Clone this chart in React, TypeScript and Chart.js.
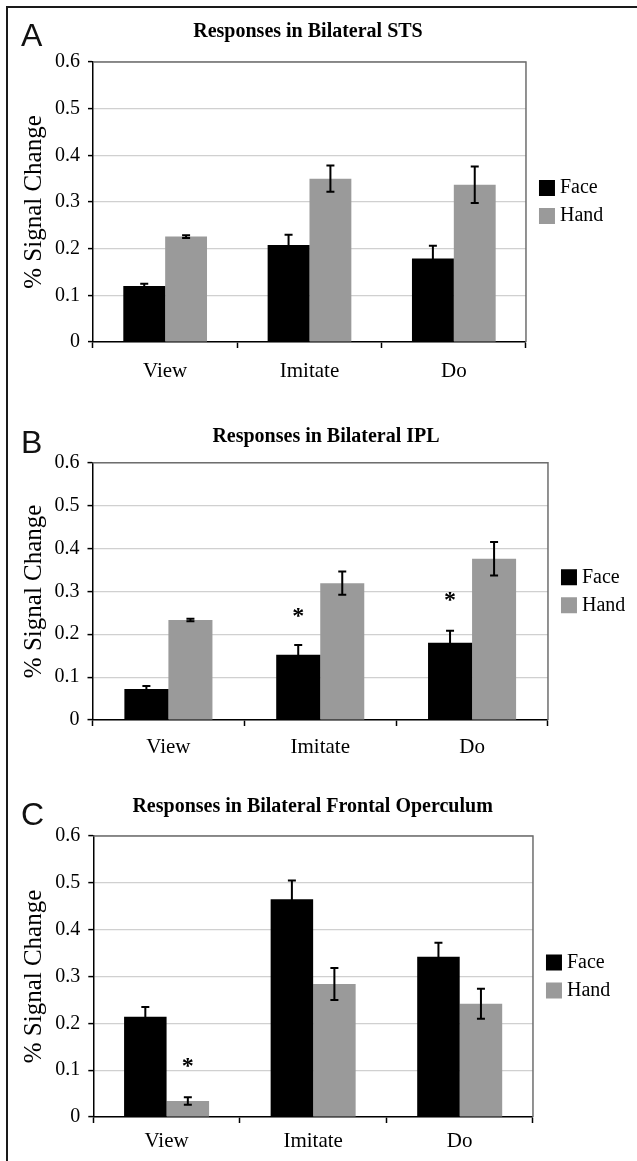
import React, { useEffect, useRef } from 'react';
import { Chart, registerables } from 'chart.js';

Chart.register(...registerables);

// ---------------- data ----------------
const categories = ['View', 'Imitate', 'Do'];
const seriesNames = ['Face', 'Hand'];
const yTickValues = [0, 0.1, 0.2, 0.3, 0.4, 0.5, 0.6];
const yTickLabels = ['0', '0.1', '0.2', '0.3', '0.4', '0.5', '0.6'];
const yAxisTitle = '% Signal Change';

const panelLetters = ['A', 'B', 'C'];
const panelTitles = [
  'Responses in Bilateral STS',
  'Responses in Bilateral IPL',
  'Responses in Bilateral Frontal Operculum',
];

const stsFace = [0.12, 0.208, 0.179];
const stsFaceErr = [0.005, 0.022, 0.027];
const stsHand = [0.226, 0.35, 0.337];
const stsHandErr = [0.003, 0.028, 0.039];

const iplFace = [0.072, 0.152, 0.18];
const iplFaceErr = [0.007, 0.023, 0.028];
const iplHand = [0.233, 0.319, 0.376];
const iplHandErr = [0.003, 0.027, 0.039];

const foFace = [0.214, 0.465, 0.342];
const foFaceErr = [0.021, 0.04, 0.03];
const foHand = [0.034, 0.284, 0.242];
const foHandErr = [0.008, 0.034, 0.032];

// significance markers: [series index, category index, value]
const stsStars: number[][] = [];
const iplStars = [
  [0, 1, 0.251],
  [0, 2, 0.288],
];
const foStars = [[1, 0, 0.118]];

// ---------------- styling / layout ----------------
const FONT = "'Liberation Serif', 'Times New Roman', serif";
const FACE_COLOR = '#000000';
const HAND_COLOR = '#9a9a9a';

Chart.defaults.font.family = FONT;

type Layout = {
  top: number;
  height: number;
  padL: number;
  padR: number;
  padB: number;
  titleTop: number;
  titleBottom: number;
  yWidth: number;
  yTitlePad: number;
  xTickPad: number;
  letterTop: number;
};

const layouts: Layout[] = [
  { top: 0, height: 395, padL: 2.7, padR: 23.7, padB: 1, titleTop: 19.5, titleBottom: 18.5, yWidth: 90.3, yTitlePad: 16.8, xTickPad: 10.4, letterTop: 18.8 },
  { top: 390, height: 380, padL: 16.7, padR: 1.7, padB: 1, titleTop: 35, titleBottom: 13.7, yWidth: 75.8, yTitlePad: 2.8, xTickPad: 8.9, letterTop: 426 },
  { top: 770, height: 391, padL: 4.9, padR: 16.7, padB: 2, titleTop: 25, titleBottom: 17, yWidth: 88.4, yTitlePad: 14.6, xTickPad: 5.4, letterTop: 798 },
];

const panelData = [
  { face: stsFace, faceErr: stsFaceErr, hand: stsHand, handErr: stsHandErr, stars: stsStars },
  { face: iplFace, faceErr: iplFaceErr, hand: iplHand, handErr: iplHandErr, stars: iplStars },
  { face: foFace, faceErr: foFaceErr, hand: foHand, handErr: foHandErr, stars: foStars },
];

// ---------------- plugins ----------------
const plotFramePlugin = {
  id: 'plotFrame',
  beforeDatasetsDraw(chart: any) {
    const { ctx, chartArea } = chart;
    const { left, right, top, bottom } = chartArea;
    ctx.save();
    ctx.strokeStyle = '#6e6e6e';
    ctx.lineWidth = 1.5;
    ctx.beginPath();
    ctx.moveTo(left, top);
    ctx.lineTo(right, top);
    ctx.lineTo(right, bottom);
    ctx.stroke();
    ctx.restore();
  },
};

const errorBarPlugin = {
  id: 'errorBars',
  afterDatasetsDraw(chart: any) {
    const { ctx } = chart;
    const yScale = chart.scales.y;
    ctx.save();
    ctx.strokeStyle = '#000';
    ctx.lineWidth = 2;
    chart.data.datasets.forEach((ds: any, i: number) => {
      const meta = chart.getDatasetMeta(i);
      meta.data.forEach((el: any, j: number) => {
        const v = ds.data[j];
        const e = ds.errors[j];
        const x = el.x;
        const yt = yScale.getPixelForValue(v + e);
        const yb = yScale.getPixelForValue(v - e);
        ctx.beginPath();
        ctx.moveTo(x, yt);
        ctx.lineTo(x, yb);
        ctx.moveTo(x - 4, yt);
        ctx.lineTo(x + 4, yt);
        ctx.moveTo(x - 4, yb);
        ctx.lineTo(x + 4, yb);
        ctx.stroke();
      });
    });
    ctx.restore();
  },
};

const starPlugin = {
  id: 'sigStars',
  afterDatasetsDraw(chart: any, _args: any, opts: any) {
    const marks: number[][] = (opts && opts.marks) || [];
    const { ctx } = chart;
    const yScale = chart.scales.y;
    ctx.save();
    ctx.fillStyle = '#000';
    ctx.font = `bold 24px ${FONT}`;
    ctx.textAlign = 'center';
    ctx.textBaseline = 'alphabetic';
    marks.forEach(([series, cat, value]) => {
      const el = chart.getDatasetMeta(series).data[cat];
      const y = yScale.getPixelForValue(value);
      ctx.fillText('*', el.x, y + 11);
    });
    ctx.restore();
  },
};

// ---------------- components ----------------
function Panel({ index }: { index: number }) {
  const ref = useRef<HTMLCanvasElement>(null);
  const lay = layouts[index];
  const d = panelData[index];

  useEffect(() => {
    const chart = new Chart(ref.current as HTMLCanvasElement, {
      type: 'bar',
      data: {
        labels: categories,
        datasets: [
          { label: seriesNames[0], data: d.face, errors: d.faceErr, backgroundColor: FACE_COLOR, borderWidth: 0 } as any,
          { label: seriesNames[1], data: d.hand, errors: d.handErr, backgroundColor: HAND_COLOR, borderWidth: 0 } as any,
        ],
      },
      options: {
        animation: false,
        responsive: false,
        layout: { padding: { left: lay.padL, right: lay.padR, top: 0, bottom: lay.padB } },
        datasets: { bar: { barPercentage: 1, categoryPercentage: 0.58 } },
        plugins: {
          title: {
            display: true,
            text: panelTitles[index],
            color: '#000',
            font: { family: FONT, size: 20, weight: 'bold' },
            padding: { top: lay.titleTop, bottom: lay.titleBottom },
          },
          legend: {
            position: 'right',
            fullSize: false,
            labels: {
              usePointStyle: true,
              pointStyle: 'rect',
              boxWidth: 6,
              boxHeight: 16,
              padding: 8,
              color: '#000',
              font: { family: FONT, size: 20 },
            },
          },
          tooltip: { enabled: false },
          sigStars: { marks: d.stars },
        } as any,
        scales: {
          x: {
            grid: {
              display: true,
              drawOnChartArea: false,
              drawTicks: true,
              tickLength: 6,
              tickColor: '#000',
              tickWidth: 1.5,
              offset: true,
            },
            border: { color: '#000', width: 1.5 },
            ticks: { color: '#000', font: { family: FONT, size: 21 }, padding: lay.xTickPad },
          },
          y: {
            min: 0,
            max: 0.6,
            afterBuildTicks: (s: any) => {
              s.ticks = yTickValues.map((v) => ({ value: v }));
            },
            afterFit: (s: any) => {
              s.width = lay.yWidth;
            },
            grid: { color: '#d0d0d0', lineWidth: 1.2, tickLength: 5, tickColor: '#000', tickWidth: 1.5 },
            border: { color: '#000', width: 1.5 },
            ticks: {
              color: '#000',
              font: { family: FONT, size: 20 },
              padding: 8,
              callback: (_v: any, i: number) => yTickLabels[i],
            },
            title: {
              display: true,
              text: yAxisTitle,
              color: '#000',
              font: { family: FONT, size: 25 },
              padding: { top: lay.yTitlePad, bottom: 0 },
            },
          },
          gap: {
            type: 'linear',
            position: 'right',
            display: true,
            grid: { display: false, drawTicks: false },
            border: { display: false },
            ticks: { display: false },
            afterFit: (s: any) => {
              s.width = 10;
            },
          },
        } as any,
      },
      plugins: [plotFramePlugin, errorBarPlugin, starPlugin],
    });
    return () => chart.destroy();
  }, []);

  return (
    <canvas
      ref={ref}
      width={637}
      height={lay.height}
      style={{ position: 'absolute', left: 0, top: lay.top, width: 637, height: lay.height }}
    />
  );
}

export default function App() {
  return (
    <div style={{ position: 'absolute', left: 0, top: 0, width: 637, height: 1161, background: '#fff', overflow: 'hidden' }}>
      {layouts.map((_, i) => (
        <Panel key={i} index={i} />
      ))}
      {layouts.map((lay, i) => (
        <div
          key={'l' + i}
          style={{
            position: 'absolute',
            left: 21,
            top: lay.letterTop,
            fontFamily: "'Liberation Sans', Arial, sans-serif",
            fontSize: 32,
            lineHeight: '32px',
            color: '#111',
          }}
        >
          {panelLetters[i]}
        </div>
      ))}
      <div
        style={{
          position: 'absolute',
          left: 6,
          top: 6,
          width: 631,
          height: 1155,
          borderLeft: '2px solid #1a1a1a',
          borderTop: '2px solid #1a1a1a',
          pointerEvents: 'none',
        }}
      />
    </div>
  );
}
